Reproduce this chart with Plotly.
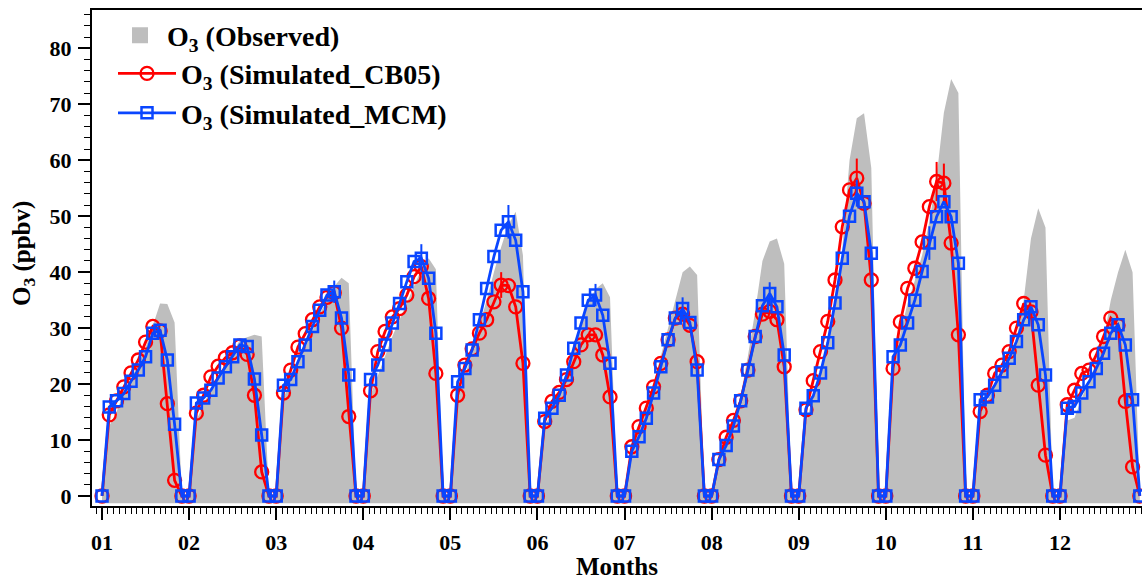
import plotly.graph_objects as go

# ---------------- data (12 points per month: 0, 10 daytime values, 0) ----------------
months = ["01", "02", "03", "04", "05", "06", "07", "08", "09", "10", "11", "12"]

obs_observed = [
    [0, 12.5, 15.0, 18.5, 21.0, 23.5, 26.5, 30.5, 34.4, 34.3, 31.0, 0],
    [0, 13.5, 16.5, 19.0, 21.5, 23.5, 25.5, 27.9, 28.3, 28.8, 28.5, 0],
    [0, 17.5, 20.5, 23.5, 26.5, 29.5, 32.5, 35.0, 37.5, 39.0, 38.0, 0],
    [0, 18.0, 21.5, 25.0, 28.5, 31.5, 34.5, 37.5, 40.5, 42.5, 40.5, 0],
    [0, 17.5, 21.5, 25.5, 30.5, 35.0, 40.0, 44.5, 48.5, 50.8, 43.0, 0],
    [0, 12.5, 15.0, 18.0, 21.5, 26.0, 30.5, 34.5, 37.0, 38.0, 35.5, 0],
    [0, 10.0, 13.0, 16.5, 20.0, 25.0, 30.0, 35.5, 40.0, 41.0, 39.5, 0],
    [0, 7.0, 9.0, 13.0, 18.0, 25.0, 33.0, 42.0, 45.5, 46.0, 41.5, 0],
    [0, 13.0, 18.0, 22.0, 27.0, 34.0, 44.0, 60.0, 67.5, 68.4, 58.6, 0],
    [0, 22.0, 29.0, 34.5, 38.5, 43.0, 49.0, 57.0, 68.5, 74.5, 72.0, 0],
    [0, 15.0, 17.0, 19.5, 22.0, 24.5, 28.0, 35.0, 46.0, 51.4, 48.0, 0],
    [0, 13.5, 14.0, 17.5, 20.5, 24.0, 28.0, 35.0, 40.0, 44.0, 40.0, 0],
]

sim_cb05 = [
    [0, 14.5, 17.0, 19.5, 22.0, 24.3, 27.5, 30.3, 29.5, 16.5, 2.8, 0],
    [0, 14.8, 18.0, 21.3, 23.2, 24.7, 25.6, 26.8, 25.3, 18.0, 4.3, 0],
    [0, 18.4, 22.5, 26.6, 29.0, 31.5, 33.8, 35.5, 36.3, 30.0, 14.2, 0],
    [0, 18.8, 25.8, 29.4, 32.0, 33.5, 35.9, 39.2, 41.0, 35.3, 21.9, 0],
    [0, 18.0, 23.4, 26.3, 29.1, 31.5, 34.7, 37.7, 37.6, 33.8, 23.7, 0],
    [0, 13.3, 16.9, 18.5, 20.8, 24.0, 27.0, 28.8, 28.8, 25.2, 17.7, 0],
    [0, 8.8, 12.4, 15.7, 19.5, 23.7, 27.9, 31.8, 32.5, 30.5, 24.0, 0],
    [0, 6.5, 10.5, 13.5, 17.0, 22.5, 28.5, 32.5, 33.0, 31.5, 23.1, 0],
    [0, 15.4, 20.6, 25.8, 31.2, 38.6, 48.1, 54.7, 56.8, 52.3, 38.6, 0],
    [0, 22.8, 31.1, 37.1, 40.7, 45.4, 51.7, 56.2, 55.9, 45.2, 28.8, 0],
    [0, 15.1, 18.0, 21.9, 23.4, 25.8, 30.0, 34.4, 32.9, 19.8, 7.3, 0],
    [0, 16.3, 18.9, 21.9, 22.5, 25.2, 28.5, 31.8, 30.5, 16.9, 5.2, 0],
]

sim_mcm = [
    [0, 15.9, 17.0, 18.3, 20.5, 22.5, 24.9, 29.1, 29.6, 24.3, 12.8, 0],
    [0, 16.6, 17.5, 18.9, 21.1, 23.1, 24.9, 27.0, 26.7, 20.9, 10.9, 0],
    [0, 19.8, 20.8, 24.0, 27.0, 30.3, 33.2, 35.9, 36.5, 31.8, 21.6, 0],
    [0, 20.8, 23.4, 27.0, 30.9, 34.4, 38.3, 41.9, 42.5, 38.9, 29.1, 0],
    [0, 20.4, 22.8, 26.1, 31.5, 37.1, 42.8, 47.5, 49.0, 45.7, 36.5, 0],
    [0, 13.9, 15.7, 18.0, 21.6, 26.4, 30.9, 35.0, 35.9, 32.3, 23.7, 0],
    [0, 8.0, 10.6, 13.9, 18.4, 23.1, 27.9, 31.8, 33.5, 31.0, 22.5, 0],
    [0, 6.5, 9.0, 12.5, 17.0, 22.5, 28.5, 34.0, 36.2, 33.8, 25.2, 0],
    [0, 15.7, 17.9, 22.0, 27.4, 34.5, 42.5, 50.0, 54.1, 52.6, 43.4, 0],
    [0, 24.9, 27.0, 30.9, 35.0, 40.1, 45.2, 49.9, 52.6, 49.9, 41.6, 0],
    [0, 17.2, 17.7, 19.8, 22.2, 24.6, 27.6, 31.5, 33.8, 30.6, 21.6, 0],
    [0, 15.7, 16.0, 18.4, 20.4, 22.8, 25.5, 29.1, 30.6, 27.0, 17.2, 0],
]

# visible error bars: (month index, point index, half-length)
cb05_err_points = [(4, 7, 2.3), (8, 8, 3.5), (9, 7, 3.5), (9, 8, 3.5)]
mcm_err_points = [(2, 8, 2.0), (3, 8, 2.5), (4, 8, 3.0), (5, 8, 2.0),
                  (6, 8, 2.0), (7, 8, 2.0), (8, 8, 2.4), (9, 6, 3.0)]

obs_floor = -1.3  # grey area base

# ---------------- build ----------------
PTS = len(obs_observed[0])
x = [m * PTS + k for m in range(len(months)) for k in range(PTS)]
flat = lambda a: [v for row in a for v in row]
y_obs, y_cb, y_mcm = flat(obs_observed), flat(sim_cb05), flat(sim_mcm)

def err_array(points):
    e = [0.0] * len(x)
    for m, k, v in points:
        e[m * PTS + k] = v
    return e

RED = "#ff0000"
BLUE = "#0a46ff"
GREY = "#bebebe"
FONT = "Liberation Serif"
LEG_FONT = dict(family=FONT, size=28, color="black", weight="bold")

fig = go.Figure()
fig.add_trace(go.Scatter(x=x, y=[obs_floor] * len(x), mode="lines",
                         line=dict(width=0, color=GREY), showlegend=False, hoverinfo="skip"))
fig.add_trace(go.Scatter(x=x, y=y_obs, mode="lines", fill="tonexty", fillcolor=GREY,
                         line=dict(width=0, color=GREY), showlegend=False,
                         name="O<sub>3</sub> (Observed)"))
# legend proxy for the grey area (square swatch as in the reference)
fig.add_trace(go.Scatter(x=[None], y=[None], mode="markers", name="O<sub>3</sub> (Observed)",
                         marker=dict(symbol="square", size=16, color=GREY, line=dict(width=0)),
                         legend="legend"))
fig.add_trace(go.Scatter(x=x, y=y_cb, mode="lines+markers", name="O<sub>3</sub> (Simulated_CB05)",
                         line=dict(color=RED, width=2.8),
                         marker=dict(symbol="circle-open", size=13, color=RED, line=dict(width=2.3, color=RED)),
                         error_y=dict(type="data", array=err_array(cb05_err_points), visible=True,
                                      color=RED, thickness=2, width=0),
                         legend="legend2"))
fig.add_trace(go.Scatter(x=x, y=y_mcm, mode="lines+markers", name="O<sub>3</sub> (Simulated_MCM)",
                         line=dict(color=BLUE, width=2.8),
                         marker=dict(symbol="square-open", size=11, color=BLUE, line=dict(width=2.5, color=BLUE)),
                         error_y=dict(type="data", array=err_array(mcm_err_points), visible=True,
                                      color=BLUE, thickness=2, width=0),
                         legend="legend2"))

fig.update_layout(
    width=1142, height=580,
    margin=dict(l=92, r=0, t=10, b=74),
    paper_bgcolor="white", plot_bgcolor="white",
    font=dict(family=FONT, color="black", weight="bold"),
    showlegend=True,
    legend=dict(x=0.02, y=0.999, xanchor="left", yanchor="top", bgcolor="rgba(0,0,0,0)",
                traceorder="normal", font=LEG_FONT, itemwidth=44),
    legend2=dict(x=0.02, y=0.922, xanchor="left", yanchor="top", bgcolor="rgba(0,0,0,0)",
                 traceorder="normal", font=LEG_FONT, itemwidth=58, tracegroupgap=0),
    annotations=[
        dict(text="Months", xref="paper", yref="paper", x=0.5, y=-0.121,
             xanchor="center", yanchor="middle", showarrow=False, borderpad=0,
             font=dict(family=FONT, size=25, color="black", weight="bold")),
        dict(text="O<sub>3</sub> (ppbv)", xref="paper", yref="paper", x=-0.0657, y=0.508,
             xanchor="center", yanchor="middle", showarrow=False, textangle=-90,
             font=dict(family=FONT, size=25, color="black", weight="bold")),
    ],
)

fig.update_xaxes(
    range=[-1.38, 143.3],
    tickmode="array", tickvals=[m * PTS for m in range(len(months))], ticktext=months,
    ticks="outside", ticklen=12, tickwidth=1.5, tickcolor="black",
    tickfont=dict(family=FONT, size=22, color="black", weight="bold"),
    ticklabelstandoff=4,
    showline=True, linewidth=2, linecolor="black", mirror=True,
    showgrid=False, zeroline=False,
    minor=dict(ticks="outside", ticklen=6, tickwidth=1.2, tickcolor="black",
               tickmode="linear", tick0=0, dtick=PTS / 15, showgrid=False),
    automargin=False,
)
fig.update_yaxes(
    range=[-1.79, 86.85],
    tickmode="linear", tick0=0, dtick=10,
    ticks="outside", ticklen=12, tickwidth=1.5, tickcolor="black",
    tickfont=dict(family=FONT, size=22, color="black", weight="bold"),
    ticklabelstandoff=2,
    showline=True, linewidth=2, linecolor="black",
    showgrid=False, zeroline=False,
    minor=dict(ticks="outside", ticklen=6, tickwidth=1.2, tickcolor="black",
               tickmode="linear", tick0=0, dtick=2, showgrid=False),
    automargin=False,
)

fig.write_html("out.html")
